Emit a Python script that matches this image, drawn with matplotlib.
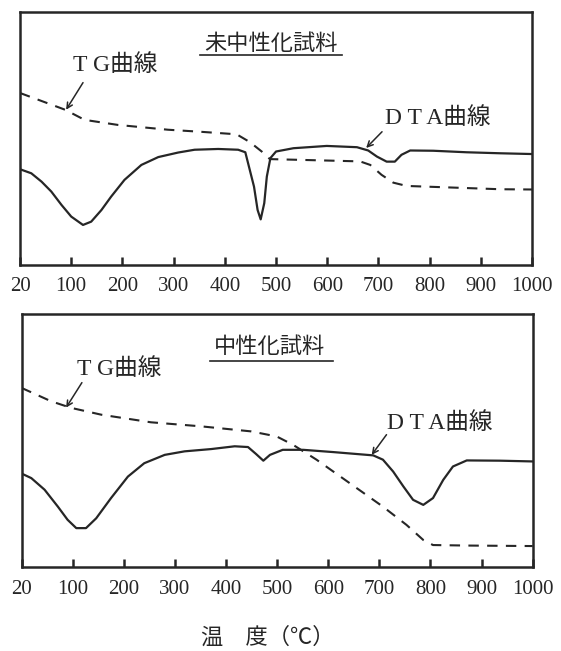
import matplotlib
matplotlib.use("Agg")
import matplotlib.pyplot as plt

# ---- data (x in deg C, y in arbitrary units 0-100) ----
tick_positions = [0, 100, 200, 300, 400, 500, 600, 700, 800, 900, 1000]
tick_labels = ["20", "100", "200", "300", "400", "500", "600", "700", "800", "900", "1000"]

top_dta_x = [0, 22, 42, 61, 81, 100, 123, 139, 159, 178, 204, 237, 270, 309, 341, 387, 426, 440,
             447, 457, 464, 470, 477, 482, 489, 500, 534, 599, 658, 680, 697, 716, 732, 745, 762,
             807, 872, 938, 1000]
top_dta_y = [37.8, 36.2, 32.9, 29.0, 23.7, 19.1, 15.8, 17.1, 21.7, 27.0, 33.6, 39.5, 42.6, 44.4,
             45.5, 45.8, 45.5, 44.5, 38.9, 30.9, 21.7, 18.0, 24.4, 34.9, 42.2, 44.8, 46.1, 47.0,
             46.5, 45.2, 42.8, 40.8, 40.8, 43.5, 45.2, 45.1, 44.5, 44.1, 43.8]

top_tg_x = [0, 88, 126, 191, 289, 352, 423, 449, 472, 488, 547, 664, 684, 706, 729, 755, 938, 1000]
top_tg_y = [67.9, 61.3, 57.3, 55.3, 53.4, 52.6, 51.6, 48.5, 44.8, 41.8, 41.5, 40.9, 39.5, 35.6,
            32.5, 31.2, 29.9, 29.8]

bot_dta_x = [0, 19, 45, 71, 90, 107, 126, 146, 175, 208, 240, 280, 319, 371, 417, 443, 459, 473,
             486, 511, 551, 610, 688, 707, 727, 747, 766, 786, 805, 825, 844, 871, 936, 1000]
bot_dta_y = [37.0, 35.2, 30.6, 23.9, 18.7, 15.4, 15.4, 19.3, 27.3, 35.8, 41.1, 44.4, 45.8, 46.7,
             47.8, 47.5, 44.7, 42.1, 44.4, 46.4, 46.4, 45.5, 44.2, 42.5, 37.8, 31.9, 26.6, 24.6,
             27.3, 34.5, 39.8, 42.2, 42.1, 41.8]

bot_tg_x = [0, 58, 97, 156, 253, 351, 449, 499, 531, 577, 642, 707, 753, 786, 805, 871, 1000]
bot_tg_y = [70.9, 65.6, 63.0, 60.3, 57.3, 55.7, 53.7, 51.7, 48.4, 42.5, 33.2, 23.9, 16.7, 10.7,
            8.7, 8.5, 8.3]

titles = ["未中性化試料", "中性化試料"]
tg_label = "T G曲線"
dta_label = "D T A曲線"
xlabel = "温　度（℃）"

JP = ["Noto Sans CJK JP", "DejaVu Sans"]
MIX = ["Liberation Serif", "Noto Sans CJK JP"]
INK = "#262626"

fig = plt.figure(figsize=(5.61, 6.51), dpi=100)
fig.patch.set_facecolor("white")

axes_specs = [
    [0.0357, 0.593, 0.9127, 0.389],
    [0.0385, 0.129, 0.9110, 0.388],
]

panels = [
    dict(dta=(top_dta_x, top_dta_y), tg=(top_tg_x, top_tg_y), title=titles[0],
         title_xy=(491, 87.5), ul=(351, 629, 83.0),
         tg_txt=(186, 79), tg_arr=((123, 72), (90, 61.3)),
         dta_txt=(816, 58), dta_arr=((707, 52.6), (676, 46.2))),
    dict(dta=(bot_dta_x, bot_dta_y), tg=(bot_tg_x, bot_tg_y), title=titles[1],
         title_xy=(485, 87.3), ul=(368, 609, 81.7),
         tg_txt=(190, 78.2), tg_arr=((118, 73), (87, 63.1)),
         dta_txt=(819, 57.1), dta_arr=((714, 52.4), (685, 44.4))),
]

for spec, p in zip(axes_specs, panels):
    ax = fig.add_axes(spec)
    ax.set_xlim(0, 1000)
    ax.set_ylim(0, 100)
    ax.plot(*p["dta"], color=INK, lw=1.6, solid_joinstyle="round")
    ax.plot(*p["tg"], color=INK, lw=1.5, dashes=(5, 4))
    for s in ax.spines.values():
        s.set_linewidth(1.8)
        s.set_color(INK)
    ax.set_yticks([])
    ax.set_xticks(tick_positions)
    ax.set_xticklabels(tick_labels, family=["Liberation Serif"], fontsize=15, color=INK)
    ax.tick_params(axis="x", direction="in", length=6, width=1.8, pad=9, colors=INK)

    ax.text(p["title_xy"][0], p["title_xy"][1], p["title"], family=JP, fontsize=16,
            ha="center", va="center", color=INK)
    x0, x1, yy = p["ul"]
    ax.plot([x0, x1], [yy, yy], color=INK, lw=1.2)

    ax.text(p["tg_txt"][0], p["tg_txt"][1], tg_label, family=MIX, fontsize=17,
            ha="center", va="center", color=INK)
    ax.annotate("", xy=p["tg_arr"][1], xytext=p["tg_arr"][0],
                arrowprops=dict(arrowstyle="->,head_length=0.4,head_width=0.2", lw=1.1, color=INK,
                                shrinkA=0, shrinkB=0))
    ax.text(p["dta_txt"][0], p["dta_txt"][1], dta_label, family=MIX, fontsize=17,
            ha="center", va="center", color=INK)
    ax.annotate("", xy=p["dta_arr"][1], xytext=p["dta_arr"][0],
                arrowprops=dict(arrowstyle="->,head_length=0.4,head_width=0.2", lw=1.1, color=INK,
                                shrinkA=0, shrinkB=0))

fig.text(0.478, 0.0215, xlabel, family=JP, fontsize=16, ha="center", va="center", color=INK)

fig.savefig("out.png", dpi=100, facecolor="white")
